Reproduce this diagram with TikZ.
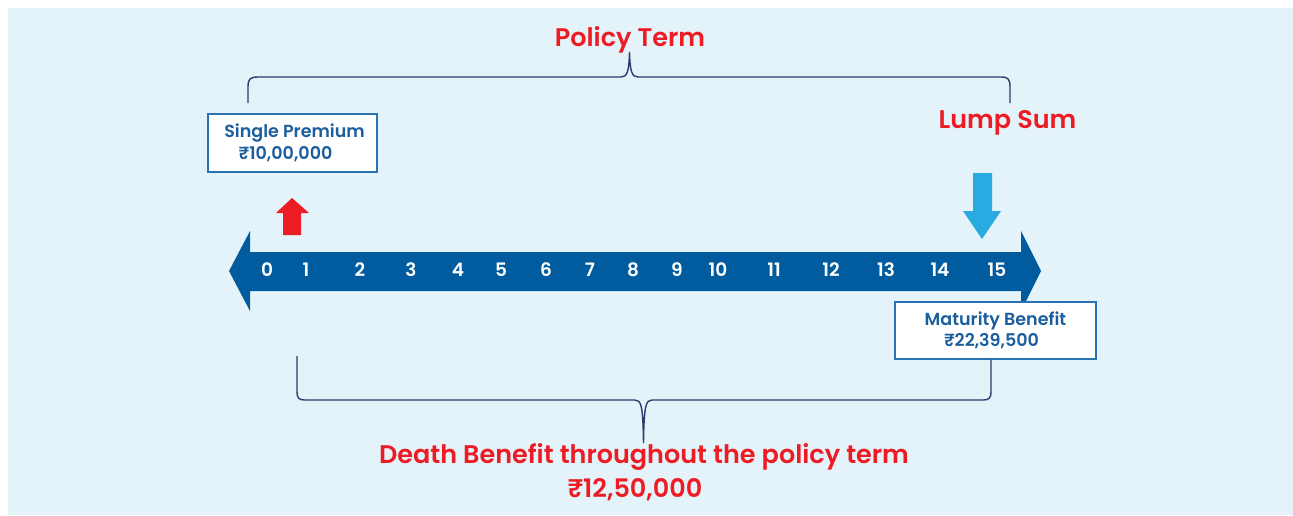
\documentclass[tikz,border=0pt]{standalone}
\usepackage{fontspec}
\setmainfont{Poppins}[BoldFont={Poppins SemiBold}]
\definecolor{bgc}{HTML}{E4F3F9}
\definecolor{redt}{HTML}{ED1C24}
\definecolor{navy}{HTML}{005C9E}
\definecolor{boxtxt}{HTML}{1B5E9E}
\definecolor{boxline}{HTML}{2A72B5}
\definecolor{lblue}{HTML}{29ABE2}
\definecolor{bracec}{HTML}{2A3B6E}
\begin{document}
\begin{tikzpicture}[x=1pt,y=-1pt,
  titletext/.style={text=redt,font=\fontsize{25.5}{28}\selectfont\bfseries,anchor=base,inner sep=0pt},
  numtext/.style={text=white,font=\fontsize{18.5}{18}\selectfont\bfseries,anchor=base,inner sep=0pt},
  infobox/.style={draw=boxline,line width=1.2pt,fill=white,text=boxtxt,
    font=\fontsize{17.5}{21.5}\selectfont\bfseries,align=center,inner sep=0pt},
  bracestyle/.style={draw=bracec,line width=1.4pt}]
\useasboundingbox (0,0) rectangle (1293,515);
\fill[white] (0,0) rectangle (1293,515);
\fill[bgc] (8,8) rectangle (1293,515);

% timeline
\fill[navy] (229,271) -- (250,231) -- (250,252) -- (1021,252) -- (1021,231) -- (1041,271)
  -- (1021,311) -- (1021,291) -- (250,291) -- (250,311) -- cycle;
\foreach \n/\x in {0/267,1/306,2/360,3/411,4/458,5/501,6/546,7/590,8/633,9/677,10/718,11/774,12/831,13/886,14/940,15/997}
  \node[numtext] (n\n) at (\x,276) {\n};

% arrows
\fill[redt] (292,198) -- (309,213) -- (301,213) -- (301,235) -- (283,235) -- (283,213) -- (276,213) -- cycle;
\fill[lblue] (982,239) -- (1001,211) -- (992,211) -- (992,173) -- (973,173) -- (973,211) -- (963,211) -- cycle;

% boxes
\node[infobox,minimum width=169pt,minimum height=58pt] (sp) at (292.5,143) {\hspace*{4pt}Single Premium\\₹10,00,000\hspace*{14pt}};
\node[infobox,minimum width=201pt,minimum height=57pt] (mb) at (995.5,330.5) {Maturity Benefit\\₹22,39,500\hspace*{8pt}};

% titles
\node[titletext] (pt) at (630,46) {Policy Term};
\node[titletext] (ls) at (1007.5,128) {Lump Sum};
\node[titletext] (db) at (644,463) {Death Benefit throughout the policy term};
\node[titletext] (dv) at (635,497) {₹12,50,000};

% braces
\coordinate (tl) at (248,103);
\coordinate (tt) at (629.5,52);
\coordinate (tr) at (1010,103);
\draw[bracestyle] (tl) -- (248,87) .. controls (248,79) and (250,77) .. (258,77) -- (621,77)
  .. controls (627,77) and (629,72) .. (tt) .. controls (630,72) and (632,77) .. (638,77)
  -- (1001,77) .. controls (1008,77) and (1010,79) .. (1010,87) -- (tr);
\coordinate (bl) at (297,356);
\coordinate (bt) at (643.5,443);
\coordinate (br) at (mb.south -| 991,0);
\draw[bracestyle] (bl) -- (297,392) .. controls (297,398) and (299,400) .. (305,400) -- (635,400)
  .. controls (641,400) and (643,405) .. (bt) .. controls (644,405) and (646,400) .. (652,400)
  -- (983,400) .. controls (989,400) and (991,398) .. (991,392) -- (br);
\end{tikzpicture}
\end{document}
